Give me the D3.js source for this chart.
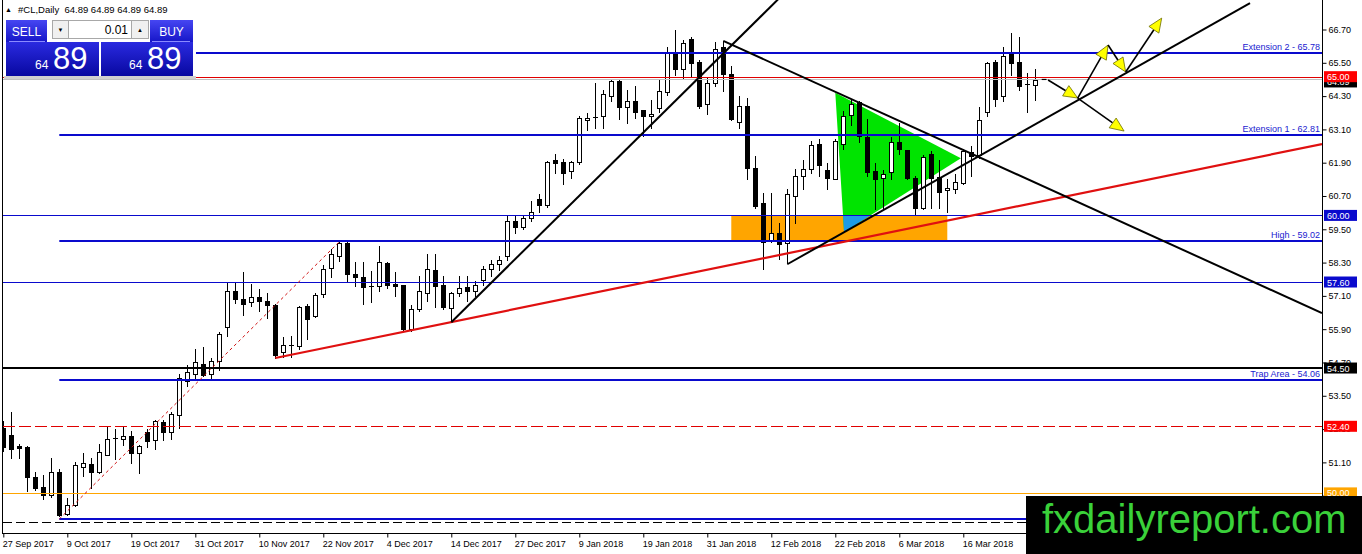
<!DOCTYPE html>
<html><head><meta charset="utf-8">
<script src="https://cdn.jsdelivr.net/npm/d3@7/dist/d3.min.js"></script>
<style>body{margin:0;background:#fff;overflow:hidden}svg{display:block}text{font-family:"Liberation Sans",Arial,sans-serif}</style>
</head><body><svg id="c" width="1362" height="554"></svg>
<script>
// ---------- DATA ----------
const opens = [52.33,52.08,51.69,51.66,50.58,50.21,49.91,50.77,49.24,49.57,50.94,51.03,50.74,51.37,51.94,51.94,52.06,51.42,52.21,51.90,52.57,52.21,52.80,54.05,54.30,54.66,54.30,54.74,55.99,57.29,56.99,56.87,57.05,56.93,56.78,55.08,55.34,55.30,56.73,56.37,57.16,58.09,58.52,59.00,57.89,57.77,57.43,57.45,58.28,57.53,57.49,55.89,56.63,57.21,58.04,57.49,56.66,57.21,57.41,57.29,57.68,58.07,58.25,58.55,59.80,59.57,59.89,60.58,60.37,62.00,61.92,61.60,61.92,63.45,63.55,63.57,64.29,64.86,63.91,64.11,63.79,63.57,63.87,64.43,65.90,65.27,66.35,65.54,64.03,64.77,66.06,65.10,63.36,63.96,61.72,60.46,59.12,59.38,59.00,60.70,61.42,61.66,62.56,61.63,61.32,62.58,63.63,64.07,62.83,61.60,61.36,61.56,62.64,62.35,61.36,60.28,62.20,61.40,60.91,60.94,61.18,62.28,62.16,63.71,65.54,64.29,65.85,65.54,64.73,64.71];
const highs = [52.60,52.92,51.78,51.70,50.77,50.65,51.24,50.87,49.81,51.10,51.45,51.24,51.78,52.41,52.30,52.36,52.23,51.73,52.32,52.64,52.62,52.92,54.30,54.60,55.20,55.27,54.86,55.79,57.61,57.61,57.97,57.53,57.35,57.20,56.80,55.61,55.67,56.75,56.81,57.21,58.21,58.79,59.05,59.03,58.31,58.33,58.00,58.90,58.31,57.95,57.49,56.78,57.83,58.61,58.61,57.83,57.23,57.81,57.81,57.65,58.19,58.40,58.55,59.98,59.98,59.98,60.52,60.76,61.95,62.23,62.02,61.95,63.57,63.69,64.77,64.53,64.91,64.89,64.53,64.67,63.79,64.17,64.89,66.06,66.68,66.32,66.44,65.60,64.98,66.26,66.30,65.39,64.29,64.23,62.13,60.82,60.82,59.74,60.94,61.66,61.99,62.67,62.76,61.90,62.75,63.75,64.19,64.14,63.48,61.90,61.63,62.83,63.33,62.35,61.42,62.16,62.32,61.99,61.32,61.48,62.38,62.49,63.91,65.54,65.60,66.08,66.59,66.44,65.15,65.27];
const lows = [51.50,51.24,51.24,50.07,50.11,49.79,49.87,49.16,49.19,49.51,50.61,50.17,50.71,51.35,51.22,51.73,51.06,50.71,51.67,51.58,51.89,51.94,52.35,53.85,54.10,54.20,54.12,54.42,55.67,56.85,56.42,56.73,56.57,56.30,54.86,54.90,54.90,55.20,55.53,56.33,57.05,57.77,58.37,57.61,57.45,56.81,56.89,57.29,57.38,57.11,55.86,55.85,56.57,56.93,56.69,56.63,56.15,57.11,56.93,57.11,57.49,57.83,58.05,58.40,59.38,59.50,59.80,60.12,60.32,61.54,61.15,61.36,61.84,63.09,63.15,63.15,64.11,63.48,63.33,63.51,62.85,63.15,63.71,64.35,65.06,64.95,65.00,63.87,63.67,64.65,64.47,63.45,63.15,61.30,60.28,58.07,59.03,58.43,58.27,59.74,60.94,61.54,61.42,60.94,61.30,62.38,63.27,62.64,61.42,60.22,60.22,61.30,62.20,61.32,60.00,60.22,60.28,60.28,60.12,60.82,61.12,61.42,62.08,63.60,63.95,64.11,65.07,64.53,63.71,64.17];
const closes = [51.67,51.60,51.63,50.58,50.17,49.91,50.77,49.22,49.57,50.99,51.06,50.74,51.46,51.96,51.97,52.06,51.42,51.70,51.87,52.59,52.21,52.86,54.15,54.35,54.70,54.24,54.74,55.73,57.29,56.97,56.82,57.05,56.93,56.78,54.98,55.34,55.30,56.69,56.27,57.13,58.07,58.61,59.00,57.89,57.77,57.41,57.45,58.31,57.49,57.47,55.91,56.63,57.29,58.07,57.47,56.69,57.21,57.38,57.29,57.49,58.07,58.25,58.40,59.79,59.60,59.89,60.12,60.37,61.92,61.88,61.54,61.92,63.51,63.51,63.50,64.38,64.86,63.91,64.11,63.71,63.57,63.66,64.50,65.87,65.27,66.23,65.49,63.93,64.77,65.99,65.10,63.48,63.96,61.72,60.34,59.03,59.38,58.97,60.76,61.42,61.66,62.52,61.80,61.36,62.67,63.60,64.03,62.85,61.56,61.32,61.48,62.64,62.38,61.36,60.28,62.11,61.36,60.84,60.99,61.20,62.31,62.14,63.45,65.49,64.19,65.74,65.51,64.67,64.69,64.89];
const dateLabels = ["27 Sep 2017","9 Oct 2017","19 Oct 2017","31 Oct 2017","10 Nov 2017","22 Nov 2017","4 Dec 2017","14 Dec 2017","27 Dec 2017","9 Jan 2018","19 Jan 2018","31 Jan 2018","12 Feb 2018","22 Feb 2018","6 Mar 2018","16 Mar 2018"];
const dateBars = [0,8,16,24,32,40,48,56,64,72,80,88,96,104,112,120];
const priceTicks = [66.70,65.50,64.30,63.10,61.90,60.70,59.50,58.30,57.10,55.90,54.70,53.50,52.30,51.10,49.90];
// named levels (drawn from bar 7 to the right edge)
const levelNames = ["Extension 2 - 65.78","Extension 1 - 62.81","High - 59.02","Trap Area - 54.06",""];
const levelPrices = [65.84,62.90,59.08,54.07,49.06];
// full-width horizontal lines with price boxes
const markPrices = [65.00,60.00,57.60,54.50,52.40,50.00,48.96];
const markLabels = ["65.00","60.00","57.60","54.50","52.40","50.00",""];
const bidPrice = 64.91, bidLabel = "64.89";
// trend lines [bar0, price0, bar1, price1]
const redTrend = [34,54.86,164.84,62.57];
const redDotted = [7,49.06,42,59.05];
const blackUp1 = [56,56.15,97,67.83];
const blackDown = [90,66.29,164.84,56.48];
const blackUp2 = [98,58.24,155.84,67.65];
// zones
const orangeZone = [91,118,59.08,60.00];
const triangle = [[104,64.42],[119.7,62.06],[105.1,59.40]];
// projected arrows [bar0, price0, bar1, price1]
const arrows = [[130.6,64.88,134.3,64.23],[134.3,64.23,138.1,66.14],[138.1,66.14,140.3,65.17],[140.3,65.17,144.8,67.11],[134.3,64.23,140.1,63.04]];

// ---------- SCALES ----------
const svg = d3.select("#c");
const PL=3, PR=1322, PT=0, PB=533;
const x = d3.scaleLinear().domain([0,164.84]).range([3.3,1322]);
const y = d3.scaleLinear().domain([50,66.7]).range([492.9,29.5]);
const BLUE="#0a0acd";

const defs = svg.append("defs");
defs.append("clipPath").attr("id","plot").append("rect").attr("x",PL).attr("y",PT).attr("width",PR-PL).attr("height",PB-PT);
defs.append("clipPath").attr("id","ozone").append("rect")
  .attr("x",x(orangeZone[0])).attr("y",y(orangeZone[3])).attr("width",x(orangeZone[1])-x(orangeZone[0])).attr("height",y(orangeZone[2])-y(orangeZone[3]));
const gr1 = defs.append("linearGradient").attr("id","btn").attr("x1",0).attr("y1",0).attr("x2",0).attr("y2",1);
gr1.append("stop").attr("offset",0).attr("stop-color","#4646f2");
gr1.append("stop").attr("offset",1).attr("stop-color","#1616c8");
const gr2 = defs.append("linearGradient").attr("id","big").attr("x1",0).attr("y1",0).attr("x2",0).attr("y2",1);
gr2.append("stop").attr("offset",0).attr("stop-color","#2a2ae0");
gr2.append("stop").attr("offset",1).attr("stop-color","#0808a0");

const plot = svg.append("g").attr("clip-path","url(#plot)");

// zones
plot.append("rect").attr("x",x(orangeZone[0])).attr("y",y(orangeZone[3]))
  .attr("width",x(orangeZone[1])-x(orangeZone[0])).attr("height",y(orangeZone[2])-y(orangeZone[3])).attr("fill","#ffa500");
const triPts = triangle.map(d=>[x(d[0]),y(d[1])].join(",")).join(" ");
plot.append("polygon").attr("points",triPts).attr("fill","#00e400");
plot.append("polygon").attr("points",triPts).attr("fill","#1e9be6").attr("clip-path","url(#ozone)");

// candles
const idx = d3.range(opens.length);
const cg = plot.append("g");
idx.forEach(i=>{
  const cx = Math.round(x(i));
  const o=opens[i],c=closes[i],h=highs[i],l=lows[i];
  cg.append("line").attr("x1",cx+0.5).attr("x2",cx+0.5).attr("y1",Math.round(y(h))).attr("y2",Math.round(y(l))+1).attr("stroke","#000");
  const top = Math.round(y(Math.max(o,c))), bot = Math.round(y(Math.min(o,c)));
  if (bot-top < 2) {
    cg.append("line").attr("x1",cx-2).attr("x2",cx+3).attr("y1",top+0.5).attr("y2",top+0.5).attr("stroke","#000");
  } else {
    cg.append("rect").attr("x",cx-1.5).attr("y",top+0.5).attr("width",4).attr("height",bot-top)
      .attr("fill", c>=o ? "#fff" : "#000").attr("stroke","#000");
  }
});

// full-width mark lines
const markStyle = [
  {c:"#e00000",w:1,d:null},{c:BLUE,w:1,d:null},{c:BLUE,w:1,d:null},{c:"#000",w:2,d:null},
  {c:"#e00000",w:1,d:"12,4"},{c:"#ffa500",w:1,d:null},{c:"#000",w:1,d:"9,4"}];
plot.append("line").attr("x1",PL).attr("x2",PR).attr("y1",Math.round(y(bidPrice))+0.5).attr("y2",Math.round(y(bidPrice))+0.5).attr("stroke","#c0c0c0");
markPrices.forEach((p,k)=>{
  const yy = Math.round(y(p))+(markStyle[k].w===1?0.5:0);
  plot.append("line").attr("x1",PL).attr("x2",PR).attr("y1",yy).attr("y2",yy)
    .attr("stroke",markStyle[k].c).attr("stroke-width",markStyle[k].w).attr("stroke-dasharray",markStyle[k].d);
});
// named levels
levelPrices.forEach((p,k)=>{
  const yy = Math.round(y(p));
  plot.append("line").attr("x1",x(7)).attr("x2",PR).attr("y1",yy).attr("y2",yy).attr("stroke",BLUE).attr("stroke-width",2);
  if (levelNames[k]) plot.append("text").attr("x",PR-2).attr("y",yy-3).attr("text-anchor","end")
    .attr("font-size",9).attr("fill","#1a1ad0").text(levelNames[k]);
});

// trend lines
function seg(d,color,w,dash){
  plot.append("line").attr("x1",x(d[0])).attr("y1",y(d[1])).attr("x2",x(d[2])).attr("y2",y(d[3]))
    .attr("stroke",color).attr("stroke-width",w).attr("stroke-dasharray",dash||null);
}
seg(redDotted,"#d01010",1,"3,3");
seg(redTrend,"#e01010",2.2);
seg(blackUp1,"#000",2);
seg(blackDown,"#000",2);
seg(blackUp2,"#000",2);

// arrows
plot.append("line").attr("x1",x(129.8)).attr("x2",x(130.4)).attr("y1",y(64.90)).attr("y2",y(64.90)).attr("stroke","#000").attr("stroke-width",1.2);
arrows.forEach(a=>{
  const x0=x(a[0]),y0=y(a[1]),x1=x(a[2]),y1=y(a[3]);
  const dx=x1-x0, dy=y1-y0, len=Math.hypot(dx,dy), ux=dx/len, uy=dy/len;
  const hl=14, hw=6;
  const bx=x1-ux*hl, by=y1-uy*hl;
  plot.append("line").attr("x1",x0).attr("y1",y0).attr("x2",bx).attr("y2",by).attr("stroke","#000").attr("stroke-width",1.6);
  plot.append("polygon").attr("points",[[x1,y1],[bx-uy*hw,by+ux*hw],[bx+uy*hw,by-ux*hw]].map(p=>p.join(",")).join(" "))
    .attr("fill","#ffff00").attr("stroke","#6b6b00").attr("stroke-width",0.8);
});

// ---------- AXES ----------
svg.append("line").attr("x1",PR+0.5).attr("x2",PR+0.5).attr("y1",0).attr("y2",PB+1).attr("stroke","#000");
svg.append("line").attr("x1",PL).attr("x2",PR).attr("y1",PB+0.5).attr("y2",PB+0.5).attr("stroke","#000");
svg.append("line").attr("x1",PL-0.5).attr("x2",PL-0.5).attr("y1",0).attr("y2",PB+1).attr("stroke","#000");

const ya = svg.append("g").attr("transform",`translate(${PR+0.5},0)`)
  .call(d3.axisRight(y).tickValues(priceTicks).tickFormat(d3.format(".2f")).tickSize(4).tickPadding(2));
ya.select(".domain").remove();
ya.selectAll("text").attr("font-size",9).attr("font-family","Liberation Sans, Arial").attr("fill","#000");

const xa = svg.append("g").attr("transform",`translate(0,${PB+0.5})`)
  .call(d3.axisBottom(x).tickValues(dateBars).tickFormat((d,k)=>dateLabels[k]).tickSize(4).tickPadding(3));
xa.select(".domain").remove();
xa.selectAll("text").attr("text-anchor","start").attr("dx",-1).attr("font-size",9).attr("font-family","Liberation Sans, Arial").attr("fill","#000");

// price boxes
function box(p,label,bg,fg){
  const yy=y(p);
  svg.append("rect").attr("x",PR+2).attr("y",yy-5.5).attr("width",33).attr("height",11).attr("fill",bg);
  svg.append("text").attr("x",PR+5).attr("y",yy+3.5).attr("font-size",9).attr("fill",fg).text(label);
}
box(bidPrice-0.1,bidLabel,"#000","#fff");
const boxBg = ["#ff0000",BLUE,BLUE,"#000","#ff0000","#ffa500"];
markLabels.forEach((t,k)=>{ if(t) box(markPrices[k],t,boxBg[k],"#fff"); });

// ---------- TITLE & TRADE PANEL ----------
svg.append("text").attr("x",5).attr("y",12).attr("font-size",7).text("▲");
svg.append("text").attr("x",18).attr("y",13).attr("font-size",9.5).attr("xml:space","preserve").text("#CL,Daily  64.89 64.89 64.89 64.89");
svg.append("rect").attr("x",4).attr("y",18).attr("width",192).attr("height",61).attr("fill","#ffffff");
svg.append("rect").attr("x",4).attr("y",76).attr("width",192).attr("height",3).attr("fill","#d0d0d0");
svg.append("rect").attr("x",6).attr("y",20).attr("width",41).attr("height",22).attr("fill","url(#btn)");
svg.append("rect").attr("x",150).attr("y",20).attr("width",43).attr("height",22).attr("fill","url(#btn)");
svg.append("rect").attr("x",6).attr("y",42).attr("width",93).attr("height",34).attr("fill","url(#big)");
svg.append("rect").attr("x",101).attr("y",42).attr("width",92).attr("height",34).attr("fill","url(#big)");
svg.append("line").attr("x1",9).attr("x2",45).attr("y1",41.5).attr("y2",41.5).attr("stroke","#8a8aff");
svg.append("line").attr("x1",152).attr("x2",190).attr("y1",41.5).attr("y2",41.5).attr("stroke","#8a8aff");
svg.append("rect").attr("x",52.5).attr("y",20.5).attr("width",96).attr("height",18).attr("fill","#fff").attr("stroke","#a8a8a8");
svg.append("rect").attr("x",52.5).attr("y",20.5).attr("width",16).attr("height",18).attr("fill","#f0f0f0").attr("stroke","#a8a8a8");
svg.append("rect").attr("x",131.5).attr("y",20.5).attr("width",17).attr("height",18).attr("fill","#f0f0f0").attr("stroke","#a8a8a8");
svg.append("text").attr("x",60.5).attr("y",32).attr("text-anchor","middle").attr("font-size",6).text("▼");
svg.append("text").attr("x",140).attr("y",32).attr("text-anchor","middle").attr("font-size",6).text("▲");
svg.append("text").attr("x",128).attr("y",34).attr("text-anchor","end").attr("font-size",12).text("0.01");
svg.append("text").attr("x",26.5).attr("y",36).attr("text-anchor","middle").attr("font-size",12).attr("fill","#fff").text("SELL");
svg.append("text").attr("x",171.5).attr("y",36).attr("text-anchor","middle").attr("font-size",12).attr("fill","#fff").text("BUY");
[[35,53],[129,147]].forEach(p=>{
  svg.append("text").attr("x",p[0]).attr("y",68.5).attr("font-size",12).attr("fill","#fff").text(bidLabel.slice(0,2));
  svg.append("text").attr("x",p[1]).attr("y",68.5).attr("font-size",31).attr("fill","#fff").text(bidLabel.slice(3));
});

// ---------- WATERMARK ----------
svg.append("rect").attr("x",1026).attr("y",496).attr("width",336).attr("height",58).attr("fill","#000");
svg.append("text").attr("x",1042).attr("y",533).attr("font-size",40).attr("fill","#3ad13a").text("fxdailyreport.com");
</script></body></html>
